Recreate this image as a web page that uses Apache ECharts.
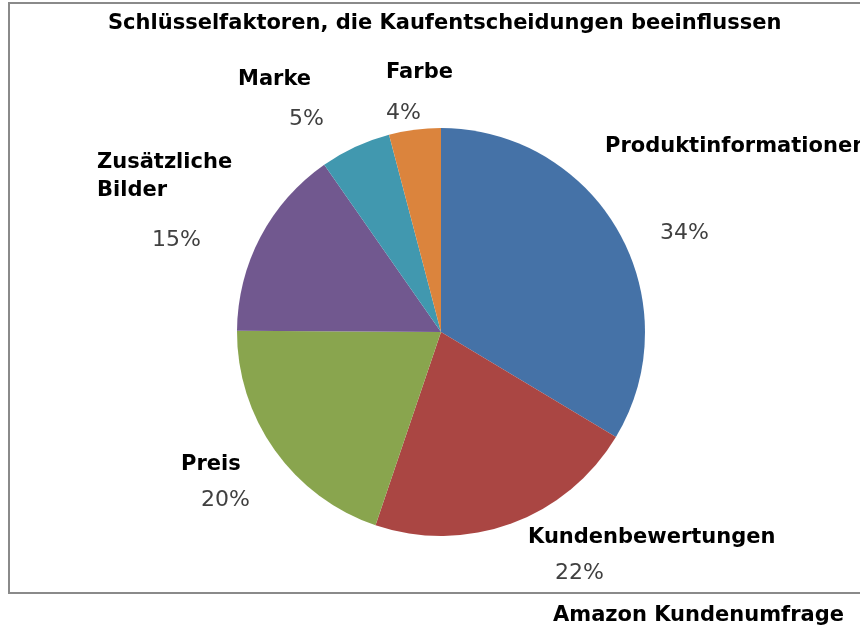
<!DOCTYPE html>
<html>
<head>
<meta charset="utf-8">
<script src="https://cdn.jsdelivr.net/npm/echarts@6/dist/echarts.min.js"></script>
<style>html,body{margin:0;padding:0;background:#fff}#c{width:860px;height:630px}</style>
</head>
<body>
<div id="c"></div>
<script>
// Data
const categories = ['Produktinformationen', 'Kundenbewertungen', 'Preis', 'Zusätzliche\nBilder', 'Marke', 'Farbe'];
const shares = [33.6, 21.6, 19.9, 15.2, 5.6, 4.1];
// percentages as printed on the chart
const percentLabels = ['34%', '22%', '20%', '15%', '5%', '4%'];
const chartTitle = 'Schlüsselfaktoren, die Kaufentscheidungen beeinflussen';
const sourceNote = 'Amazon Kundenumfrage';

// Styling / layout (not data)
const colors = ['#4572A7', '#AA4643', '#89A54E', '#71588F', '#4198AF', '#DB843D'];
const labelAnchor = [[605, 133], [528, 524], [181, 451], [97, 149], [238, 66], [386, 59]];
const pctPad = [[59, 55], [8, 27], [8, 20], [22, 55], [12, 51], [13, 0]];

const chart = echarts.init(document.getElementById('c'), null, {renderer: 'canvas'});

const data = categories.map((name, i) => ({
  name: name,
  value: shares[i],
  itemStyle: {color: colors[i]},
  label: {
    rich: {
      p: {fontFamily: 'DejaVu Sans', fontSize: 22, color: '#404040', lineHeight: 26,
          padding: [pctPad[i][0] * 2, 0, 0, pctPad[i][1]]}
    }
  }
}));

chart.setOption({
  animation: false,
  backgroundColor: '#fff',
  title: [
    {text: chartTitle, left: 103, top: 8,
     textStyle: {fontFamily: 'DejaVu Sans', fontWeight: 'bold', fontSize: 21, color: '#000'}},
    {text: sourceNote, left: 548, top: 600,
     textStyle: {fontFamily: 'DejaVu Sans', fontWeight: 'bold', fontSize: 21, color: '#000'}}
  ],
  graphic: [
    {type: 'rect', z: -1, shape: {x: 9, y: 3, width: 900, height: 590},
     style: {fill: 'none', stroke: '#8a8a8a', lineWidth: 2}}
  ],
  series: [{
    type: 'pie',
    center: [441, 332],
    radius: 204,
    startAngle: 90,
    clockwise: true,
    avoidLabelOverlap: false,
    silent: true,
    emphasis: {disabled: true},
    itemStyle: {borderWidth: 0},
    labelLine: {show: false},
    label: {
      show: true,
      position: 'outside',
      formatter: function (p) {
        const lines = p.name.split('\n').map(s => '{n|' + s + '}').join('\n');
        return lines + '\n{p|' + percentLabels[p.dataIndex] + '}';
      },
      rich: {
        n: {fontFamily: 'DejaVu Sans', fontWeight: 'bold', fontSize: 21, color: '#000', lineHeight: 28}
      }
    },
    labelLayout: function (params) {
      const a = labelAnchor[params.dataIndex];
      return {x: a[0], y: a[1], align: 'left', verticalAlign: 'top'};
    },
    data: data
  }]
});
</script>
</body>
</html>
